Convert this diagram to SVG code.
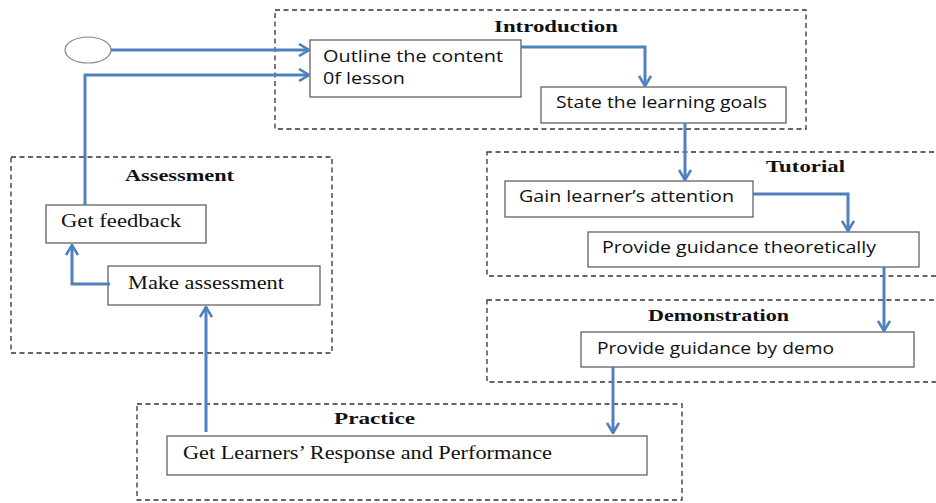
<svg xmlns="http://www.w3.org/2000/svg" width="936" height="503" viewBox="0 0 936 503">
<defs>
<style>
.grp{fill:none;stroke:#333;stroke-width:1.3;stroke-dasharray:5 3.5}
.box{fill:#fff;stroke:#555;stroke-width:1.2}
.sans{font-family:"Open Sans","Liberation Sans",sans-serif;font-size:16px;fill:#111}
.serif{font-family:"Liberation Serif","Times New Roman",serif;font-size:18px;fill:#111}
.title{font-family:"Liberation Serif","Times New Roman",serif;font-size:17px;font-weight:bold;fill:#111}
.con{fill:none;stroke:#4F81BD;stroke-width:3;marker-end:url(#arr)}
</style>
<marker id="arr" viewBox="0 0 12 14" refX="11" refY="7" markerWidth="12" markerHeight="14" markerUnits="userSpaceOnUse" orient="auto">
<path d="M1,1 L11,7 L1,13" fill="none" stroke="#4F81BD" stroke-width="2.6"/>
</marker>
</defs>
<rect width="936" height="503" fill="#fff"/>

<g id="group-introduction">
<rect class="grp" x="275" y="10" width="531" height="119"/>
<text class="title" x="494" y="32" textLength="124" lengthAdjust="spacingAndGlyphs">Introduction</text>
</g>
<g id="group-tutorial">
<rect class="grp" x="487" y="152" width="460" height="124"/>
<text class="title" x="766" y="172" textLength="79" lengthAdjust="spacingAndGlyphs">Tutorial</text>
</g>
<g id="group-demonstration">
<rect class="grp" x="487" y="300" width="460" height="82"/>
<text class="title" x="648" y="321" textLength="141" lengthAdjust="spacingAndGlyphs">Demonstration</text>
</g>
<g id="group-practice">
<rect class="grp" x="137" y="404" width="545" height="96"/>
<text class="title" x="334" y="424" textLength="81" lengthAdjust="spacingAndGlyphs">Practice</text>
</g>
<g id="group-assessment">
<rect class="grp" x="11" y="157" width="321" height="196"/>
<text class="title" x="125" y="181" textLength="109" lengthAdjust="spacingAndGlyphs">Assessment</text>
</g>

<g id="start">
<ellipse cx="88" cy="50" rx="23" ry="13" fill="#fff" stroke="#888" stroke-width="1.2"/>
</g>
<g id="outline">
<rect class="box" x="310" y="40" width="211" height="57"/>
<text class="sans" x="323" y="62" textLength="180" lengthAdjust="spacingAndGlyphs">Outline the content</text>
<text class="sans" x="323" y="84" textLength="82" lengthAdjust="spacingAndGlyphs">0f lesson</text>
</g>
<g id="state-goals">
<rect class="box" x="541" y="87" width="245" height="36"/>
<text class="sans" x="556" y="108" textLength="211" lengthAdjust="spacingAndGlyphs">State the learning goals</text>
</g>
<g id="gain-attention">
<rect class="box" x="505" y="181" width="248" height="36"/>
<text class="sans" x="519" y="202" textLength="215" lengthAdjust="spacingAndGlyphs">Gain learner’s attention</text>
</g>
<g id="guidance-theory">
<rect class="box" x="588" y="232" width="331" height="35"/>
<text class="sans" x="602" y="253" textLength="274" lengthAdjust="spacingAndGlyphs">Provide guidance theoretically</text>
</g>
<g id="guidance-demo">
<rect class="box" x="581" y="332" width="333" height="35"/>
<text class="sans" x="597" y="354" textLength="237" lengthAdjust="spacingAndGlyphs">Provide guidance by demo</text>
</g>
<g id="response">
<rect class="box" x="167" y="436" width="480" height="39"/>
<text class="serif" x="183" y="459" textLength="369" lengthAdjust="spacingAndGlyphs">Get Learners’ Response and Performance</text>
</g>
<g id="make-assessment">
<rect class="box" x="108" y="266" width="212" height="39"/>
<text class="serif" x="128" y="289" textLength="156" lengthAdjust="spacingAndGlyphs">Make assessment</text>
</g>
<g id="feedback">
<rect class="box" x="46" y="205" width="160" height="38"/>
<text class="serif" x="61" y="227" textLength="120" lengthAdjust="spacingAndGlyphs">Get feedback</text>
</g>

<g id="connectors">
<path class="con" d="M111,50 H309"/>
<path class="con" d="M85,205 V75 H309"/>
<path class="con" d="M521,47 H645 V86"/>
<path class="con" d="M685,123 V180"/>
<path class="con" d="M753,194 H848 V231"/>
<path class="con" d="M884,267 V331"/>
<path class="con" d="M613,367 V433"/>
<path class="con" d="M206,432 V307"/>
<path class="con" d="M110,284 H72 V245"/>
</g>
</svg>
